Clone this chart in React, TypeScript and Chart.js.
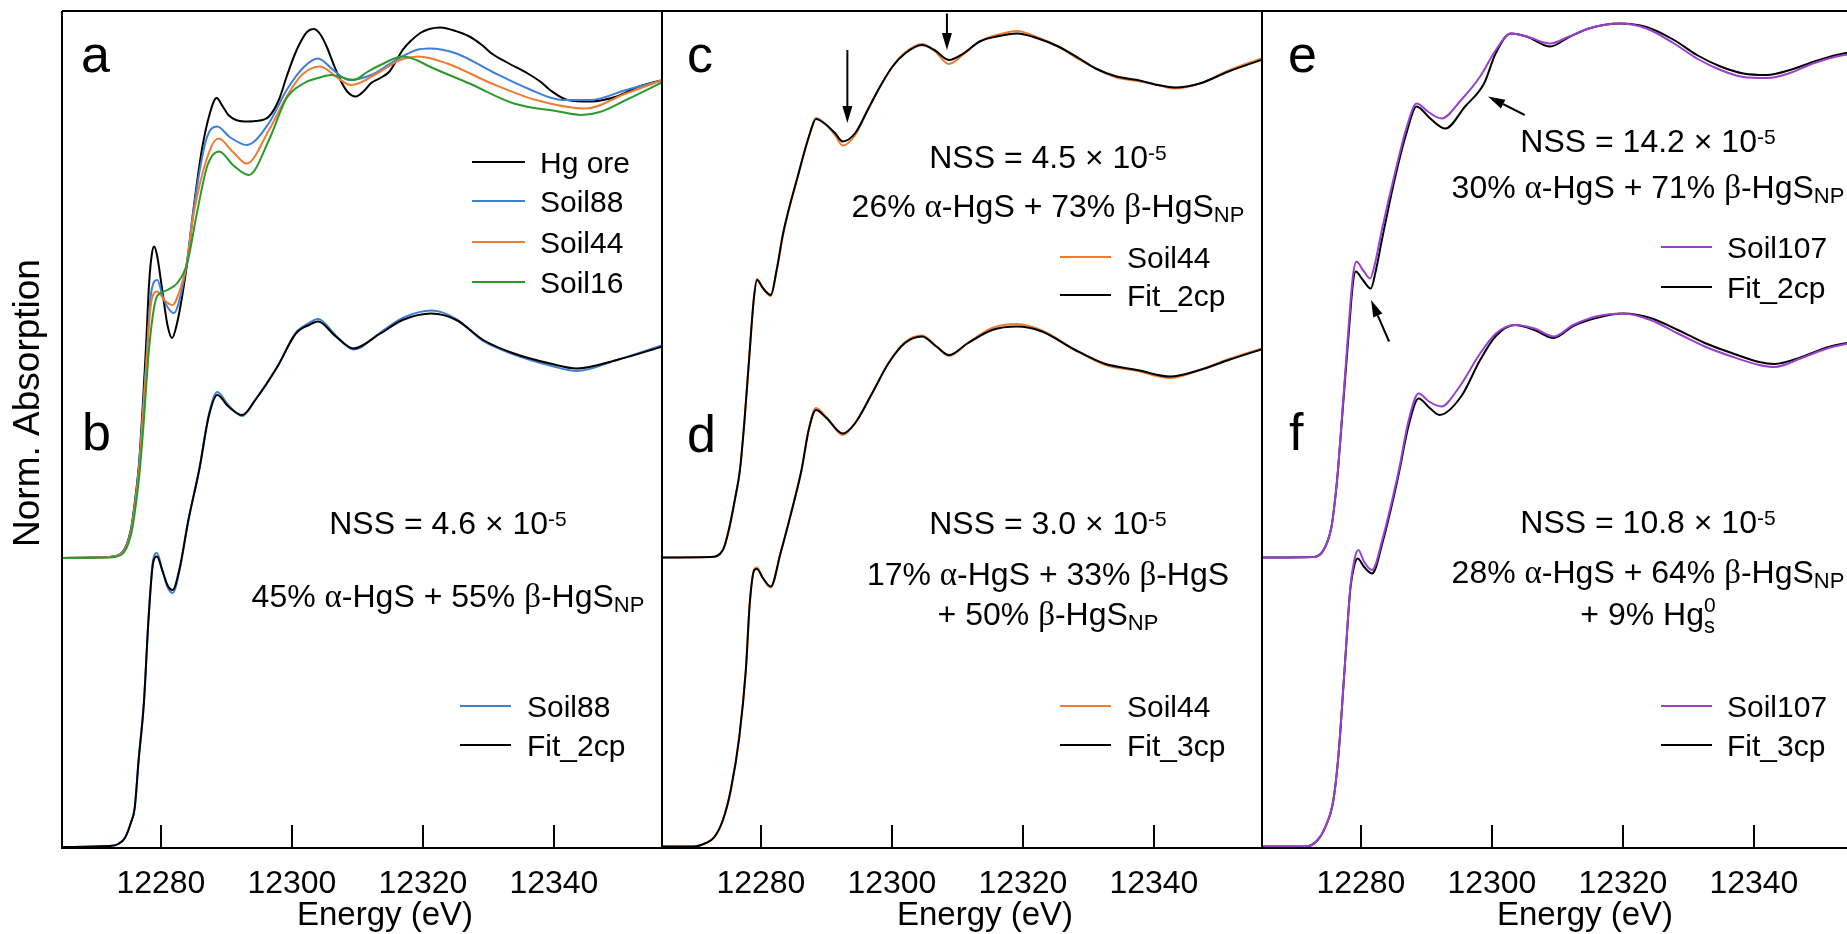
import React, { useEffect, useRef } from 'react';
import { Chart, registerables } from 'chart.js';
Chart.register(...registerables);

const FONT = '"Liberation Sans", Arial, Helvetica, sans-serif';
const GREEK = '"Liberation Serif", "Times New Roman", serif';

const X_MIN = 12264.9;
const X_MAX = 12356.5;
const X_TICKS = [12280, 12300, 12320, 12340];
const Y_MIN = 0;
const Y_MAX = 1.674;

const BLACK = '#000000';
const BLUE = '#3f7fd8';
const ORANGE = '#ee7d31';
const GREEN = '#2b9a2b';
const PURPLE = '#9a3fd0';

type P = [number, number];

// ---- panel a (offset spectra) ----
const A_HGORE: P[] = [[12265,0.580],[12272,0.582],[12274,0.590],[12275.4,0.636],[12276,0.690],[12276.7,0.776],[12277.7,0.996],[12278.2,1.130],[12278.6,1.186],[12278.95,1.203],[12279.4,1.186],[12280.2,1.116],[12281,1.046],[12281.7,1.020],[12282.4,1.046],[12283.2,1.100],[12284,1.170],[12285.2,1.300],[12286.25,1.396],[12287.4,1.466],[12288.5,1.500],[12289.4,1.484],[12290.3,1.466],[12292.7,1.453],[12294.5,1.454],[12296.5,1.463],[12298,1.496],[12299.2,1.543],[12300.4,1.586],[12301.2,1.609],[12302.3,1.632],[12303.3,1.638],[12304.3,1.628],[12305.3,1.603],[12306.4,1.566],[12307.4,1.536],[12308.5,1.512],[12309.75,1.503],[12311,1.514],[12312.1,1.530],[12313.5,1.540],[12314.9,1.553],[12316,1.576],[12316.9,1.596],[12318.3,1.616],[12319.6,1.630],[12321,1.638],[12322.7,1.641],[12324.5,1.636],[12327.1,1.623],[12329,1.606],[12330.5,1.589],[12333,1.570],[12336,1.549],[12338,1.532],[12339.4,1.516],[12342.1,1.496],[12345.5,1.493],[12347.5,1.496],[12349.6,1.503],[12353,1.523],[12356.6,1.536]];
const A_SOIL88: P[] = [[12265,0.580],[12272,0.582],[12274,0.590],[12275.4,0.634],[12276,0.685],[12276.7,0.770],[12277.7,0.960],[12278.5,1.110],[12279.45,1.136],[12280.3,1.102],[12281.2,1.078],[12282,1.070],[12283,1.105],[12284,1.175],[12284.9,1.270],[12286.9,1.416],[12288.6,1.443],[12290.5,1.422],[12293.1,1.406],[12296.5,1.450],[12299.2,1.516],[12301.9,1.563],[12304,1.579],[12306.3,1.556],[12308.7,1.536],[12312.1,1.546],[12315.5,1.573],[12319,1.596],[12321,1.599],[12325.1,1.589],[12330.5,1.553],[12336,1.519],[12341.4,1.496],[12345.5,1.496],[12351,1.516],[12356.6,1.536]];
const A_SOIL44: P[] = [[12265,0.580],[12272,0.582],[12274,0.589],[12275.4,0.630],[12276,0.680],[12276.7,0.762],[12277.7,0.950],[12278.5,1.090],[12279.45,1.113],[12280.5,1.096],[12281.75,1.086],[12283,1.120],[12284,1.172],[12284.9,1.260],[12287.3,1.390],[12288.8,1.419],[12291,1.392],[12293.1,1.369],[12296.5,1.436],[12299.2,1.503],[12301.5,1.546],[12304.3,1.563],[12307,1.540],[12309,1.526],[12313.5,1.553],[12316.5,1.576],[12319.3,1.583],[12323.7,1.569],[12330.5,1.529],[12337.3,1.496],[12344.8,1.479],[12351,1.509],[12356.6,1.536]];
const A_SOIL16: P[] = [[12265,0.580],[12272,0.581],[12274,0.587],[12275.4,0.625],[12276,0.670],[12276.7,0.745],[12277.3,0.838],[12278.2,1.000],[12279.2,1.096],[12280,1.110],[12281,1.116],[12282.5,1.130],[12284,1.169],[12285.5,1.270],[12287.1,1.365],[12288.9,1.393],[12291,1.366],[12293.4,1.346],[12296.5,1.416],[12299.2,1.500],[12301.9,1.530],[12304,1.540],[12306,1.546],[12309.4,1.536],[12311.5,1.552],[12313.5,1.566],[12316.9,1.583],[12319,1.576],[12321,1.563],[12327.1,1.529],[12333.9,1.489],[12340.7,1.473],[12344.2,1.466],[12347,1.472],[12351,1.496],[12356.6,1.532]];

// ---- panel b ----
const B_SOIL88: P[] = [[12265,0.002],[12272,0.004],[12273.5,0.008],[12274.5,0.020],[12275.4,0.050],[12276,0.080],[12276.6,0.176],[12277.4,0.290],[12278.1,0.456],[12278.8,0.575],[12279.4,0.590],[12280.2,0.556],[12281,0.522],[12281.8,0.510],[12282.8,0.552],[12284.2,0.656],[12285.9,0.760],[12287.3,0.866],[12288.6,0.912],[12290.3,0.886],[12292.4,0.864],[12294.4,0.896],[12297.8,0.963],[12300.6,1.031],[12302.6,1.050],[12304,1.058],[12306.7,1.025],[12309.4,0.997],[12313.5,1.031],[12316.9,1.060],[12321.3,1.075],[12325.1,1.058],[12329.2,1.014],[12333.9,0.987],[12339.4,0.965],[12343.5,0.954],[12349.6,0.976],[12356.6,1.006]];
const B_FIT: P[] = [[12265,0.002],[12272,0.004],[12273.5,0.008],[12274.5,0.020],[12275.4,0.050],[12276,0.080],[12276.6,0.176],[12277.4,0.290],[12278.1,0.456],[12278.8,0.570],[12279.4,0.583],[12280.2,0.556],[12281,0.526],[12281.8,0.516],[12282.8,0.556],[12284.2,0.656],[12285.9,0.760],[12287.3,0.863],[12288.6,0.906],[12290.3,0.883],[12292.4,0.866],[12294.4,0.896],[12297.8,0.963],[12300.6,1.029],[12302.6,1.046],[12304,1.053],[12306.7,1.023],[12309.4,0.999],[12313.5,1.029],[12316.9,1.056],[12321.3,1.069],[12325.1,1.056],[12329.2,1.016],[12333.9,0.989],[12339.4,0.969],[12343.5,0.959],[12349.6,0.976],[12356.6,1.003]];

// ---- panel c ----
const C_SOIL44: P[] = [[12265,0.581],[12272.3,0.582],[12274.2,0.596],[12275.1,0.636],[12276.1,0.702],[12276.8,0.756],[12277.5,0.856],[12278.3,0.996],[12278.9,1.096],[12279.4,1.138],[12280.3,1.120],[12281.5,1.104],[12282.4,1.154],[12283.4,1.228],[12285.6,1.342],[12287.5,1.430],[12288.4,1.460],[12290,1.446],[12291.3,1.426],[12292.5,1.405],[12294.4,1.426],[12296.3,1.476],[12298.2,1.523],[12300.1,1.563],[12302,1.591],[12304.6,1.608],[12306.5,1.594],[12308.7,1.568],[12310.9,1.587],[12313.4,1.613],[12316,1.626],[12319.1,1.634],[12322.3,1.621],[12325.4,1.603],[12328.6,1.577],[12331.1,1.559],[12334.3,1.541],[12337.5,1.534],[12340.6,1.526],[12343.2,1.519],[12347,1.529],[12351.4,1.555],[12356.6,1.580]];
const C_FIT: P[] = [[12265,0.581],[12272.3,0.582],[12274.2,0.596],[12275.1,0.636],[12276.1,0.702],[12276.8,0.756],[12277.5,0.856],[12278.3,0.996],[12278.9,1.096],[12279.4,1.136],[12280.3,1.120],[12281.5,1.106],[12282.4,1.156],[12283.4,1.230],[12285.6,1.342],[12287.5,1.430],[12288.4,1.458],[12290,1.446],[12291.3,1.430],[12292.5,1.413],[12294.4,1.430],[12296.3,1.476],[12298.2,1.523],[12300.1,1.563],[12302,1.589],[12304.6,1.606],[12306.5,1.596],[12308.7,1.576],[12310.9,1.589],[12313.4,1.613],[12316,1.623],[12319.1,1.629],[12322.3,1.619],[12325.4,1.603],[12328.6,1.579],[12331.1,1.559],[12334.3,1.543],[12337.5,1.536],[12340.6,1.526],[12343.2,1.521],[12347,1.529],[12351.4,1.553],[12356.6,1.577]];

// ---- panel d ----
const D_SOIL44: P[] = [[12265,0.003],[12269.7,0.003],[12271.6,0.010],[12272.9,0.022],[12274.2,0.056],[12275.4,0.116],[12276.7,0.222],[12277.7,0.356],[12278.3,0.490],[12279,0.558],[12279.4,0.561],[12280.3,0.540],[12281.5,0.521],[12283,0.590],[12285,0.690],[12286.2,0.756],[12287.3,0.838],[12288.4,0.880],[12290,0.862],[12292.5,0.826],[12294.4,0.850],[12297,0.910],[12299.5,0.970],[12302,1.012],[12304.6,1.025],[12306.8,1.003],[12308.7,0.984],[12311.5,1.009],[12315.3,1.040],[12319.1,1.048],[12322.9,1.035],[12328,0.996],[12332.4,0.967],[12337.5,0.954],[12342.5,0.940],[12347,0.956],[12351.4,0.978],[12356.6,1.000]];
const D_FIT: P[] = [[12265,0.003],[12269.7,0.003],[12271.6,0.010],[12272.9,0.022],[12274.2,0.056],[12275.4,0.116],[12276.7,0.222],[12277.7,0.356],[12278.3,0.490],[12279,0.556],[12279.4,0.558],[12280.3,0.540],[12281.5,0.523],[12283,0.590],[12285,0.690],[12286.2,0.756],[12287.3,0.836],[12288.4,0.876],[12290,0.860],[12292.5,0.829],[12294.4,0.850],[12297,0.910],[12299.5,0.970],[12302,1.010],[12304.6,1.023],[12306.8,1.003],[12308.7,0.986],[12311.5,1.009],[12315.3,1.036],[12319.1,1.043],[12322.9,1.033],[12328,0.996],[12332.4,0.969],[12337.5,0.956],[12342.5,0.943],[12347,0.956],[12351.4,0.976],[12356.6,0.998]];

// ---- panel e ----
const E_SOIL107: P[] = [[12265,0.581],[12272.8,0.582],[12274.3,0.596],[12275.5,0.642],[12276.1,0.702],[12276.5,0.756],[12277.3,0.896],[12278.2,1.056],[12278.8,1.146],[12279.3,1.173],[12280.3,1.156],[12281.4,1.139],[12282.2,1.172],[12283.1,1.230],[12285.2,1.350],[12287,1.442],[12288.5,1.489],[12290.3,1.472],[12292.3,1.459],[12295.3,1.496],[12298.2,1.543],[12300.6,1.596],[12302.9,1.629],[12305.3,1.623],[12308.9,1.609],[12311.8,1.623],[12314.8,1.639],[12319.5,1.649],[12323.6,1.639],[12327.8,1.609],[12331.3,1.579],[12334.9,1.556],[12338.4,1.542],[12342,1.540],[12345.5,1.550],[12349,1.569],[12352.6,1.583],[12357,1.592]];
const E_FIT: P[] = [[12265,0.581],[12272.8,0.582],[12274.3,0.596],[12275.5,0.642],[12276.1,0.702],[12276.5,0.756],[12277.3,0.890],[12278.2,1.040],[12278.8,1.132],[12279.2,1.153],[12280.3,1.136],[12281.5,1.119],[12282.3,1.156],[12283.2,1.216],[12285.2,1.340],[12287,1.432],[12288.5,1.483],[12290.5,1.460],[12292.9,1.439],[12295.9,1.483],[12298.8,1.529],[12300.6,1.590],[12302.9,1.629],[12305.3,1.623],[12308.9,1.603],[12311.8,1.622],[12314.8,1.639],[12319.5,1.649],[12323.6,1.642],[12327.8,1.616],[12331.3,1.586],[12334.9,1.563],[12338.4,1.549],[12342,1.546],[12345.5,1.556],[12349,1.572],[12352.6,1.586],[12357,1.596]];

// ---- panel f ----
const F_SOIL107: P[] = [[12265,0.003],[12271.6,0.003],[12273.4,0.016],[12274.6,0.043],[12275.8,0.096],[12276.6,0.190],[12277.5,0.356],[12278.4,0.523],[12279,0.576],[12279.6,0.596],[12280.5,0.572],[12281.7,0.556],[12283.4,0.623],[12284.9,0.703],[12285.8,0.756],[12287.3,0.856],[12288.8,0.909],[12290.5,0.892],[12292.3,0.883],[12294.7,0.916],[12298.2,0.989],[12300.6,1.029],[12303.5,1.046],[12306.5,1.039],[12309.4,1.023],[12312.4,1.046],[12315.9,1.063],[12320.1,1.069],[12324.2,1.056],[12328.4,1.029],[12332.5,1.003],[12336.6,0.983],[12340.8,0.966],[12343.1,0.962],[12347.3,0.980],[12351.4,1.000],[12357,1.016]];
const F_FIT: P[] = [[12265,0.003],[12271.6,0.003],[12273.4,0.016],[12274.6,0.043],[12275.8,0.096],[12276.6,0.190],[12277.5,0.356],[12278.4,0.520],[12279,0.566],[12279.5,0.579],[12280.5,0.562],[12281.7,0.549],[12283.4,0.616],[12284.9,0.696],[12285.8,0.750],[12287.3,0.846],[12288.8,0.899],[12290.5,0.880],[12292,0.866],[12295.3,0.903],[12298.2,0.976],[12300.6,1.024],[12303.5,1.046],[12306.5,1.036],[12309.4,1.020],[12312.4,1.044],[12315.9,1.060],[12320.1,1.069],[12324.2,1.060],[12328.4,1.036],[12332.5,1.010],[12336.6,0.990],[12340.8,0.972],[12343.1,0.968],[12347.3,0.982],[12351.4,1.002],[12357,1.016]];

// arrows (data coords): [fromE, fromY, toE, toY]
const C_ARROWS: [number, number, number, number][] = [[12293.2, 1.596, 12293.2, 1.450], [12308.4, 1.669, 12308.4, 1.596]];
const E_ARROWS: [number, number, number, number][] = [[12305.0, 1.466, 12299.4, 1.503], [12284.3, 1.013, 12281.55, 1.096]];

type Seg = { t: string; greek?: boolean; sub?: boolean; sup?: boolean; stack?: boolean; raise?: number };
type TextLine = { segs: Seg[]; y: number };
type LegendRow = { label: string; color: string; y: number };
type Series = { label: string; data: P[]; color: string; z: number };

interface PanelDef {
  id: string;
  left: number;
  right: number;
  series: Series[];
  letters: { t: string; dx: number; y: number }[];
  lines: TextLine[];
  legends: { x1: number; x2: number; tx: number; rows: LegendRow[] }[];
  arrows: [number, number, number, number][];
  yTitle: boolean;
}

const nss = (v: string): Seg[] => [{ t: `NSS = ${v} × 10` }, { t: '-5', sup: true }];
const A = (): Seg => ({ t: 'α', greek: true });
const B = (): Seg => ({ t: 'β', greek: true });

const CANVAS_W = 1900;
const CANVAS_H = 934;

const PANELS: PanelDef[] = [
  {
    id: 'p1', left: 62, right: 662,
    series: [
      { label: 'Hg ore', data: A_HGORE, color: BLACK, z: 6 },
      { label: 'Soil88', data: A_SOIL88, color: BLUE, z: 5 },
      { label: 'Soil44', data: A_SOIL44, color: ORANGE, z: 4 },
      { label: 'Soil16', data: A_SOIL16, color: GREEN, z: 3 },
      { label: 'Soil88 (b)', data: B_SOIL88, color: BLUE, z: 2 },
      { label: 'Fit_2cp (b)', data: B_FIT, color: BLACK, z: 1 },
    ],
    letters: [{ t: 'a', dx: 19, y: 72 }, { t: 'b', dx: 20, y: 450 }],
    lines: [
      { segs: nss('4.6'), y: 534 },
      { segs: [{ t: '45% ' }, A(), { t: '-HgS + 55% ' }, B(), { t: '-HgS' }, { t: 'NP', sub: true }], y: 607 },
    ],
    legends: [
      { x1: 410, x2: 463, tx: 478, rows: [
        { label: 'Hg ore', color: BLACK, y: 162 },
        { label: 'Soil88', color: BLUE, y: 201 },
        { label: 'Soil44', color: ORANGE, y: 242 },
        { label: 'Soil16', color: GREEN, y: 282 },
      ] },
      { x1: 398, x2: 449, tx: 465, rows: [
        { label: 'Soil88', color: BLUE, y: 706 },
        { label: 'Fit_2cp', color: BLACK, y: 745 },
      ] },
    ],
    arrows: [],
    yTitle: true,
  },
  {
    id: 'p2', left: 662, right: 1262,
    series: [
      { label: 'Soil44 (c)', data: C_SOIL44, color: ORANGE, z: 2 },
      { label: 'Fit_2cp (c)', data: C_FIT, color: BLACK, z: 1 },
      { label: 'Soil44 (d)', data: D_SOIL44, color: ORANGE, z: 2 },
      { label: 'Fit_3cp (d)', data: D_FIT, color: BLACK, z: 1 },
    ],
    letters: [{ t: 'c', dx: 25, y: 72 }, { t: 'd', dx: 25, y: 452 }],
    lines: [
      { segs: nss('4.5'), y: 168 },
      { segs: [{ t: '26% ' }, A(), { t: '-HgS + 73% ' }, B(), { t: '-HgS' }, { t: 'NP', sub: true }], y: 217 },
      { segs: nss('3.0'), y: 534 },
      { segs: [{ t: '17% ' }, A(), { t: '-HgS + 33% ' }, B(), { t: '-HgS' }], y: 585 },
      { segs: [{ t: '+ 50% ' }, B(), { t: '-HgS' }, { t: 'NP', sub: true }], y: 625 },
    ],
    legends: [
      { x1: 398, x2: 449, tx: 465, rows: [
        { label: 'Soil44', color: ORANGE, y: 257 },
        { label: 'Fit_2cp', color: BLACK, y: 295 },
      ] },
      { x1: 398, x2: 449, tx: 465, rows: [
        { label: 'Soil44', color: ORANGE, y: 706 },
        { label: 'Fit_3cp', color: BLACK, y: 745 },
      ] },
    ],
    arrows: C_ARROWS,
    yTitle: false,
  },
  {
    id: 'p3', left: 1262, right: 1862,
    series: [
      { label: 'Soil107 (e)', data: E_SOIL107, color: PURPLE, z: 1 },
      { label: 'Fit_2cp (e)', data: E_FIT, color: BLACK, z: 2 },
      { label: 'Soil107 (f)', data: F_SOIL107, color: PURPLE, z: 1 },
      { label: 'Fit_3cp (f)', data: F_FIT, color: BLACK, z: 2 },
    ],
    letters: [{ t: 'e', dx: 26, y: 72 }, { t: 'f', dx: 27, y: 450 }],
    lines: [
      { segs: nss('14.2'), y: 152 },
      { segs: [{ t: '30% ' }, A(), { t: '-HgS + 71% ' }, B(), { t: '-HgS' }, { t: 'NP', sub: true }], y: 198 },
      { segs: nss('10.8'), y: 533 },
      { segs: [{ t: '28% ' }, A(), { t: '-HgS + 64% ' }, B(), { t: '-HgS' }, { t: 'NP', sub: true }], y: 583 },
      { segs: [{ t: '+ 9% Hg' }, { t: '0', sup: true, raise: 13 }, { t: 's', sub: true, stack: true, raise: -8 }], y: 625 },
    ],
    legends: [
      { x1: 399, x2: 450, tx: 465, rows: [
        { label: 'Soil107', color: PURPLE, y: 247 },
        { label: 'Fit_2cp', color: BLACK, y: 287 },
      ] },
      { x1: 399, x2: 450, tx: 465, rows: [
        { label: 'Soil107', color: PURPLE, y: 706 },
        { label: 'Fit_3cp', color: BLACK, y: 745 },
      ] },
    ],
    arrows: E_ARROWS,
    yTitle: false,
  },
];

const TEXT_SIZE = 32;
const GREEK_SIZE = 33;
const LEGEND_SIZE = 30;
const SUP_SIZE = 21;
const SUB_SIZE = 22;
const TEXT_CENTER_DX = 386;

function segFont(s: Seg) {
  const size = s.sup ? SUP_SIZE : s.sub ? SUB_SIZE : s.greek ? GREEK_SIZE : TEXT_SIZE;
  return `${size}px ${s.greek ? GREEK : FONT}`;
}

function drawRich(ctx: CanvasRenderingContext2D, segs: Seg[], cx: number, baseY: number) {
  const widths: number[] = [];
  let total = 0;
  let prevW = 0;
  segs.forEach((s) => {
    ctx.font = segFont(s);
    const w = ctx.measureText(s.t).width;
    widths.push(w);
    if (s.stack) {
      total += Math.max(0, w - prevW);
    } else {
      total += w;
      prevW = w;
    }
  });
  let x = cx - total / 2;
  let prevX = x;
  ctx.textAlign = 'left';
  ctx.textBaseline = 'alphabetic';
  segs.forEach((s, i) => {
    ctx.font = segFont(s);
    let dy = 0;
    if (s.sup) dy = -(s.raise ?? 8);
    if (s.sub) dy = s.raise !== undefined ? -s.raise : 5;
    if (s.stack) {
      ctx.fillText(s.t, prevX, baseY + dy);
    } else {
      ctx.fillText(s.t, x, baseY + dy);
      prevX = x;
      x += widths[i];
    }
  });
}

function makePlugin(p: PanelDef) {
  return {
    id: 'decor_' + p.id,
    afterDatasetsDraw(chart: any) {
      const { ctx, chartArea } = chart;
      const { left, right, top, bottom } = chartArea;
      const xs = chart.scales.x;
      const ys = chart.scales.y;
      ctx.save();
      ctx.fillStyle = '#000';
      ctx.strokeStyle = '#000';
      ctx.lineWidth = 2;
      // frame
      ctx.beginPath();
      ctx.moveTo(left, top);
      ctx.lineTo(right, top);
      ctx.moveTo(left, top);
      ctx.lineTo(left, bottom);
      ctx.moveTo(right, top);
      ctx.lineTo(right, bottom);
      ctx.moveTo(left - 1, bottom);
      ctx.lineTo(right + 1, bottom);
      // inward ticks
      X_TICKS.forEach((v) => {
        const px = Math.round(xs.getPixelForValue(v));
        ctx.moveTo(px, bottom);
        ctx.lineTo(px, bottom - 23);
      });
      ctx.stroke();

      // x title
      ctx.font = `33px ${FONT}`;
      ctx.textAlign = 'center';
      ctx.textBaseline = 'alphabetic';
      ctx.fillText('Energy (eV)', left + 323, 925);

      // y title
      if (p.yTitle) {
        ctx.save();
        ctx.translate(39, 403);
        ctx.rotate(-Math.PI / 2);
        ctx.font = `37px ${FONT}`;
        ctx.textAlign = 'center';
        ctx.fillText('Norm. Absorption', 0, 0);
        ctx.restore();
      }

      // panel letters
      ctx.font = `52px ${FONT}`;
      ctx.textAlign = 'left';
      p.letters.forEach((l) => ctx.fillText(l.t, left + l.dx, l.y));

      // annotation text
      p.lines.forEach((ln) => drawRich(ctx, ln.segs, left + TEXT_CENTER_DX, ln.y));

      // legends
      p.legends.forEach((lg) => {
        lg.rows.forEach((r) => {
          ctx.strokeStyle = r.color;
          ctx.lineWidth = 2;
          ctx.beginPath();
          ctx.moveTo(left + lg.x1, r.y);
          ctx.lineTo(left + lg.x2, r.y);
          ctx.stroke();
          ctx.fillStyle = '#000';
          ctx.font = `${LEGEND_SIZE}px ${FONT}`;
          ctx.textAlign = 'left';
          ctx.fillText(r.label, left + lg.tx, r.y + 10.7);
        });
      });

      // arrows
      ctx.strokeStyle = '#000';
      ctx.fillStyle = '#000';
      p.arrows.forEach(([e0, y0, e1, y1]) => {
        const x0 = xs.getPixelForValue(e0);
        const py0 = ys.getPixelForValue(y0);
        const x1 = xs.getPixelForValue(e1);
        const py1 = ys.getPixelForValue(y1);
        const ang = Math.atan2(py1 - py0, x1 - x0);
        const hl = 17;
        const hw = 5;
        const bx = x1 - hl * Math.cos(ang);
        const by = py1 - hl * Math.sin(ang);
        ctx.lineWidth = 2;
        ctx.beginPath();
        ctx.moveTo(x0, py0);
        ctx.lineTo(bx, by);
        ctx.stroke();
        ctx.beginPath();
        ctx.moveTo(x1, py1);
        ctx.lineTo(bx + hw * Math.sin(ang), by - hw * Math.cos(ang));
        ctx.lineTo(bx - hw * Math.sin(ang), by + hw * Math.cos(ang));
        ctx.closePath();
        ctx.fill();
      });
      ctx.restore();
    },
  };
}

function makeConfig(p: PanelDef): any {
  return {
    type: 'line',
    data: {
      datasets: p.series.map((s) => ({
        label: s.label,
        data: s.data.map(([x, y]) => ({ x, y })),
        borderColor: s.color,
        backgroundColor: s.color,
        borderWidth: 2,
        pointRadius: 0,
        fill: false,
        order: s.z,
        cubicInterpolationMode: 'monotone',
      })),
    },
    options: {
      animation: false,
      responsive: false,
      devicePixelRatio: 1,
      layout: { padding: { left: p.left, right: CANVAS_W - p.right, top: 11, bottom: 0 } },
      plugins: { legend: { display: false }, tooltip: { enabled: false } },
      events: [],
      scales: {
        x: {
          type: 'linear',
          min: X_MIN,
          max: X_MAX,
          position: 'bottom',
          afterBuildTicks: (scale: any) => {
            scale.ticks = X_TICKS.map((v) => ({ value: v }));
          },
          afterFit: (scale: any) => {
            scale.height = 86;
          },
          ticks: {
            autoSkip: false,
            maxRotation: 0,
            padding: 9,
            color: '#000',
            font: { family: FONT, size: 32 },
            callback: (v: any) => String(v),
          },
          grid: { display: false },
          border: { display: false },
        },
        y: { display: false, min: Y_MIN, max: Y_MAX },
      },
    },
    plugins: [makePlugin(p)],
  };
}

export default function App() {
  const r0 = useRef<HTMLCanvasElement>(null);
  const r1 = useRef<HTMLCanvasElement>(null);
  const r2 = useRef<HTMLCanvasElement>(null);
  useEffect(() => {
    const refs = [r0, r1, r2];
    const charts = PANELS.map((p, i) => new Chart(refs[i].current as HTMLCanvasElement, makeConfig(p)));
    return () => charts.forEach((c) => c.destroy());
  }, []);
  const cs: React.CSSProperties = { position: 'absolute', left: 0, top: 0, width: CANVAS_W, height: CANVAS_H };
  return (
    <div style={{ position: 'absolute', left: 0, top: 0, width: 1847, height: 934, overflow: 'hidden', background: '#fff' }}>
      <canvas ref={r0} width={CANVAS_W} height={CANVAS_H} style={cs} />
      <canvas ref={r1} width={CANVAS_W} height={CANVAS_H} style={cs} />
      <canvas ref={r2} width={CANVAS_W} height={CANVAS_H} style={cs} />
    </div>
  );
}
